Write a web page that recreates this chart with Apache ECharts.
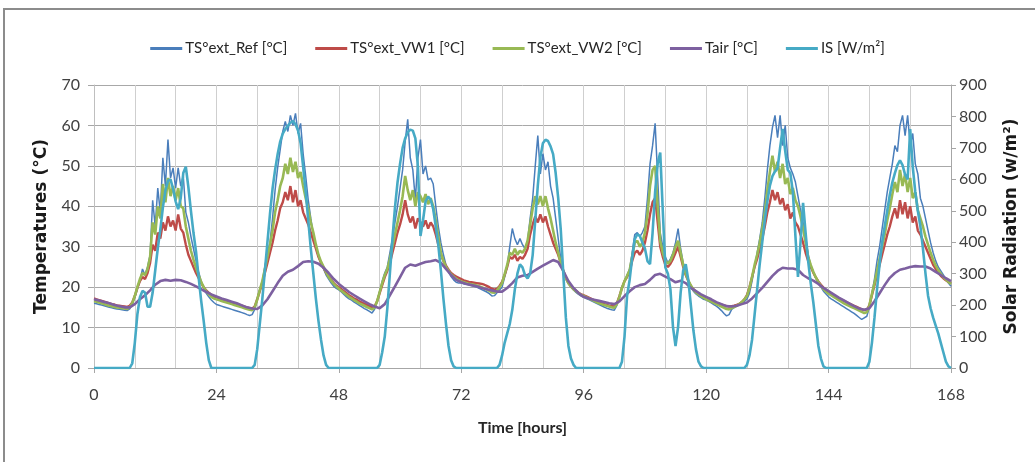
<!DOCTYPE html>
<html>
<head>
<meta charset="utf-8">
<script src="https://cdn.jsdelivr.net/npm/echarts@6/dist/echarts.min.js"></script>
<style>html,body{margin:0;padding:0;background:#fff}#c{width:1035px;height:462px}</style>
</head>
<body>
<div id="c"></div>
<script>
// ---------- DATA ----------
const seriesNames = ['TS°ext_Ref [°C]', 'TS°ext_VW1 [°C]', 'TS°ext_VW2 [°C]', 'Tair [°C]', 'IS [W/m²]'];
const xTicks = [0, 24, 48, 72, 96, 120, 144, 168];          // hours
const tempTicks = [0, 10, 20, 30, 40, 50, 60, 70];          // °C
const radTicks = [0, 100, 200, 300, 400, 500, 600, 700, 800, 900]; // W/m²
const halfHourStep = 0.5;   // sampling step (hours) of the half-hourly series
const hourStep = 1;         // sampling step (hours) of the hourly series

// TS°ext_Ref, half-hourly, t = 0 .. 168
const tsRef = [
16.0,15.9,15.7,15.6,15.4,15.2,15.0,14.9,14.7,14.6,14.5,14.4,14.3,14.2,14.6,15.8,
17.5,19.5,21.5,24.5,23.0,25.0,28.0,41.5,35.0,44.5,38.5,52.0,45.0,56.5,47.0,49.5,
44.5,49.5,45.0,47.5,38.5,36.0,32.5,29.5,26.5,23.8,21.5,19.8,18.5,17.6,16.8,16.2,
15.7,15.5,15.3,15.1,14.9,14.7,14.5,14.3,14.1,13.9,13.7,13.5,13.2,13.0,13.2,14.5,
17.0,19.5,21.5,25.0,28.5,31.0,37.0,44.0,49.5,54.0,58.5,61.0,58.5,62.5,60.0,63.0,
58.0,60.5,53.0,47.5,41.5,37.0,33.0,30.0,27.5,25.8,24.5,23.0,22.0,21.0,20.2,19.7,
19.3,18.8,18.2,17.6,17.1,16.8,16.3,15.9,15.5,15.1,14.7,14.4,14.0,13.6,14.5,16.5,
19.0,21.5,23.5,25.0,28.5,32.0,36.0,40.0,44.5,49.0,56.0,61.5,52.0,49.0,41.5,52.0,
56.5,48.0,50.0,46.5,47.0,45.5,40.0,35.0,31.0,28.0,25.5,23.8,22.6,21.8,21.2,21.0,
21.0,20.8,20.7,20.6,20.4,20.2,20.0,19.7,19.4,19.1,18.8,18.4,17.8,17.9,18.6,19.3,
20.0,22.5,25.0,30.0,34.5,32.0,30.5,32.0,30.5,29.5,31.5,37.0,42.0,50.0,57.5,48.0,
53.0,49.0,51.0,45.0,42.0,37.0,32.0,27.0,24.0,22.0,20.8,20.0,19.3,18.7,18.2,17.8,
17.5,17.2,16.9,16.6,16.3,16.0,15.7,15.4,15.1,14.8,14.6,14.4,14.3,15.5,17.5,20.0,
21.5,23.0,24.5,28.5,33.0,33.5,32.5,33.5,35.0,42.0,50.5,55.0,60.5,47.0,33.5,30.0,
27.5,26.0,27.0,28.5,31.0,34.5,29.5,26.0,23.5,21.5,20.0,19.0,18.3,17.8,17.4,17.0,
16.8,16.5,16.1,15.7,15.3,14.8,14.2,13.5,12.9,13.2,14.5,15.0,15.3,15.6,16.0,16.5,
17.0,18.5,21.5,25.0,28.5,32.0,36.0,42.0,49.0,55.0,59.5,62.5,57.0,62.5,55.0,60.0,
52.0,49.5,48.0,46.0,42.5,39.0,36.0,32.5,28.0,25.5,23.8,22.3,21.0,20.0,19.0,18.3,
17.6,17.1,16.7,16.3,15.9,15.5,15.1,14.7,14.3,13.9,13.5,13.0,12.5,12.0,12.4,12.8,
15.0,18.5,22.0,26.5,30.0,34.5,39.0,43.5,47.0,50.5,55.0,53.5,60.0,62.5,57.5,62.5,
55.0,58.0,50.5,48.0,42.0,40.0,37.0,34.0,31.0,28.5,26.5,25.0,24.0,23.0,22.0,21.0,
20.2
];

// TS°ext_VW1, half-hourly, t = 0 .. 168
const tsVW1 = [
17.2,17.0,16.8,16.6,16.4,16.2,16.0,15.8,15.7,15.5,15.4,15.3,15.2,15.1,15.4,16.2,
17.8,19.8,21.5,22.5,22.0,23.5,26.0,30.5,29.0,33.5,32.0,36.0,34.0,37.5,35.0,36.5,
34.0,38.0,34.5,33.5,30.5,28.0,26.5,25.0,23.5,22.3,21.0,20.0,19.2,18.6,18.1,17.7,
17.4,17.2,17.0,16.8,16.6,16.4,16.2,16.0,15.8,15.6,15.4,15.2,15.0,14.8,14.7,15.2,
17.0,19.0,21.0,23.5,26.0,28.5,31.0,34.0,36.5,39.5,41.0,43.5,41.5,45.0,41.0,44.0,
40.0,41.5,38.5,37.0,35.5,33.5,31.5,29.5,27.5,26.0,24.8,23.6,22.6,21.8,21.0,20.4,
20.0,19.5,19.0,18.5,18.0,17.6,17.2,16.9,16.5,16.2,15.9,15.6,15.3,15.0,15.2,16.5,
18.5,20.5,22.5,24.0,26.0,28.5,31.0,33.5,35.5,38.0,41.5,38.0,36.0,37.5,34.5,37.0,
36.0,35.0,36.5,34.5,36.0,35.0,33.0,30.5,28.0,26.5,25.3,24.3,23.5,23.0,22.6,22.3,
22.0,21.7,21.5,21.3,21.2,21.1,21.0,20.9,20.8,20.6,20.3,20.0,19.6,19.4,19.6,20.3,
21.3,23.0,25.0,27.5,27.0,28.0,26.5,27.5,27.0,28.0,29.5,33.0,35.5,37.5,36.0,38.0,
36.0,37.5,35.0,33.0,31.0,29.5,28.0,26.0,24.0,22.3,21.0,20.2,19.6,19.1,18.6,18.2,
18.0,17.7,17.4,17.1,16.8,16.5,16.2,16.0,15.8,15.6,15.4,15.3,15.2,16.0,17.8,19.8,
21.5,22.5,23.8,26.5,28.5,29.0,28.0,29.0,31.0,34.0,38.0,41.0,42.0,36.0,30.0,27.5,
25.5,25.0,25.8,27.0,28.5,30.0,27.5,25.0,23.0,21.5,20.3,19.5,18.9,18.4,18.0,17.6,
17.3,17.0,16.7,16.4,16.1,15.9,15.7,15.5,15.3,15.2,15.3,15.4,15.6,15.9,16.3,17.0,
18.0,20.0,22.5,25.0,27.0,29.5,32.0,35.0,38.5,41.0,44.0,41.5,43.5,40.5,42.0,39.0,
40.5,37.0,38.5,36.0,35.0,33.0,31.0,28.5,26.5,25.0,23.6,22.4,21.4,20.6,19.9,19.3,
18.8,18.4,18.0,17.6,17.2,16.9,16.6,16.3,16.0,15.7,15.4,15.1,14.8,14.5,14.3,14.4,
15.5,18.0,20.5,23.0,25.5,28.0,30.5,33.0,35.0,37.5,39.5,37.0,41.5,38.0,41.0,37.0,
40.0,36.0,37.5,34.0,33.0,31.5,30.0,28.5,27.0,25.5,24.5,23.6,22.8,22.2,21.7,21.3,
21.0
];

// TS°ext_VW2, half-hourly, t = 0 .. 168
const tsVW2 = [
16.6,16.4,16.2,16.0,15.8,15.6,15.4,15.3,15.1,15.0,14.9,14.8,14.7,14.6,15.0,16.0,
17.8,20.0,22.0,23.5,23.0,24.5,27.5,36.0,33.0,40.0,37.0,45.5,41.0,47.0,42.5,45.0,
41.5,44.5,40.0,39.5,35.0,32.0,29.0,26.8,24.8,23.0,21.3,20.0,19.0,18.2,17.6,17.2,
17.0,16.8,16.6,16.4,16.2,16.0,15.8,15.6,15.4,15.2,15.0,14.8,14.6,14.4,14.3,15.0,
17.0,19.3,21.5,24.5,27.5,30.5,34.0,38.5,41.5,45.0,47.0,50.5,48.0,52.0,48.5,51.0,
47.0,48.5,45.0,42.0,39.5,36.0,33.5,30.5,28.0,26.3,25.0,23.7,22.5,21.6,20.8,20.2,
19.6,19.1,18.6,18.1,17.6,17.2,16.8,16.4,16.0,15.7,15.4,15.1,14.8,14.5,14.9,16.5,
18.8,21.0,23.0,24.5,27.0,30.0,33.0,36.0,39.0,42.5,47.5,44.0,41.5,44.0,40.0,43.5,
42.5,41.0,43.0,40.5,42.0,40.0,36.5,32.5,28.5,26.5,25.0,24.0,23.2,22.6,22.1,21.7,
21.4,21.2,21.0,20.8,20.7,20.6,20.4,20.2,20.0,19.7,19.4,19.1,18.7,18.6,19.2,20.0,
21.0,23.2,25.5,28.5,28.0,29.5,28.0,29.0,28.5,29.5,31.5,35.5,39.5,42.5,40.5,42.5,
40.0,42.5,39.5,37.0,34.0,31.0,28.5,26.0,24.0,22.3,21.0,20.2,19.5,19.0,18.5,18.1,
17.8,17.5,17.2,16.9,16.6,16.3,16.0,15.8,15.6,15.4,15.2,15.0,14.9,15.8,17.6,19.8,
21.5,22.8,24.2,27.5,31.0,31.5,30.0,31.0,33.5,38.0,45.0,49.0,50.0,40.0,31.5,28.5,
26.5,25.8,26.5,28.0,30.0,31.5,28.5,25.5,23.3,21.7,20.4,19.4,18.7,18.2,17.8,17.4,
17.0,16.7,16.4,16.1,15.8,15.5,15.2,14.9,14.6,14.5,14.8,15.1,15.4,15.8,16.3,17.0,
17.8,19.8,22.5,25.5,28.0,31.0,34.5,38.5,44.0,48.5,52.5,48.5,51.0,47.0,50.5,45.5,
47.0,43.0,44.5,41.5,40.0,37.5,34.5,31.0,27.5,25.5,23.8,22.4,21.2,20.3,19.5,18.9,
18.4,18.0,17.6,17.2,16.8,16.4,16.0,15.7,15.4,15.1,14.8,14.5,14.2,13.9,13.6,13.8,
15.5,18.3,21.0,24.0,27.0,30.0,33.0,36.5,39.5,43.0,46.0,43.5,49.0,45.0,48.0,43.5,
47.0,42.0,43.5,39.0,37.0,35.0,32.5,30.5,28.5,26.8,25.3,24.2,23.3,22.5,21.9,21.3,
20.8
];

// Tair, hourly, t = 0 .. 168
const tAir = [
17.0,16.7,16.3,16.0,15.6,15.3,15.0,15.0,15.8,17.0,18.0,19.2,20.6,21.5,21.8,21.6,21.8,21.7,21.3,20.8,20.2,19.5,18.8,18.2,
17.7,17.2,16.8,16.4,16.0,15.5,15.0,14.7,14.6,15.5,17.0,19.0,21.0,22.8,23.8,24.3,25.2,26.2,26.4,26.3,25.8,24.8,23.5,22.0,
20.8,19.8,18.8,18.0,17.2,16.5,15.8,15.2,14.8,15.8,18.0,20.2,22.5,24.8,25.6,25.3,25.8,26.2,26.4,26.7,26.0,24.5,23.0,21.8,
21.2,20.8,20.5,20.2,19.8,19.5,19.2,18.9,18.9,19.8,21.0,22.4,22.8,23.0,23.8,24.6,25.3,26.0,26.7,26.2,24.0,21.5,19.8,18.5,
17.6,17.2,16.9,16.6,16.3,16.0,15.8,16.5,17.8,19.0,20.0,20.5,20.8,21.8,23.0,23.3,22.6,22.0,21.2,21.6,21.0,19.8,19.0,18.2,
17.6,17.0,16.3,15.8,15.3,15.2,15.4,15.8,16.2,17.2,18.5,19.8,21.3,22.8,24.0,24.8,24.6,24.6,24.3,23.0,22.2,21.6,20.8,19.8,
19.0,18.2,17.4,16.7,16.0,15.3,14.7,14.4,14.8,16.5,18.5,20.5,22.3,23.5,24.3,24.6,25.0,25.2,25.1,25.1,24.6,23.8,23.0,22.2,
21.5
];

// IS (solar radiation, W/m²), half-hourly, t = 0 .. 168
const solarIS = [
0,0,0,0,0,0,0,0,0,0,0,0,0,0,0,15,
80,170,225,245,240,195,195,240,310,380,440,510,565,595,600,570,
530,505,540,620,640,575,500,430,370,290,215,150,80,25,0,0,
0,0,0,0,0,0,0,0,0,0,0,0,0,0,0,10,
60,140,220,310,400,490,570,630,680,720,745,760,770,780,785,775,
755,715,640,560,470,380,300,220,150,90,40,10,0,0,0,0,
0,0,0,0,0,0,0,0,0,0,0,0,0,0,0,0,
10,50,100,190,300,410,510,590,650,700,730,750,758,755,730,640,
420,470,530,545,535,505,450,390,310,220,140,70,25,5,0,0,
0,0,0,0,0,0,0,0,0,0,0,0,0,0,0,10,
40,80,110,140,185,250,300,330,320,295,285,300,360,470,580,670,
715,726,722,705,680,620,540,440,300,160,70,30,10,0,0,0,
0,0,0,0,0,0,0,0,0,0,0,0,0,0,0,20,
100,230,280,350,410,425,420,400,380,340,330,430,560,650,685,500,
320,300,250,130,70,130,240,310,330,280,200,120,60,20,5,0,
0,0,0,0,0,0,0,0,0,0,0,0,0,0,0,0,
10,40,90,170,250,330,400,470,530,580,610,625,635,700,760,690,
630,620,560,420,290,400,525,430,340,270,210,140,70,30,5,0,
0,0,0,0,0,0,0,0,0,0,0,0,0,0,0,0,
20,80,160,250,330,400,450,500,550,590,620,645,660,645,615,600,
760,640,560,500,450,380,300,230,190,160,135,110,80,50,20,5,
0
];

// ---------- CHART ----------
const FONT = 'Lato, "Open Sans", sans-serif';
const TITLE_FONT = '"DejaVu Sans", Lato, sans-serif';
const toPairs = (arr, step) => arr.map((v, i) => [i * step, v]);
const colors = ['#4a7ebb', '#be4b48', '#98b954', '#7d60a0', '#46aac5'];
const widths = [1.5, 2.4, 2.6, 2.6, 2.6];
const sources = [
  [tsRef, halfHourStep, 0], [tsVW1, halfHourStep, 0], [tsVW2, halfHourStep, 0],
  [tAir, hourStep, 0], [solarIS, halfHourStep, 1]
];

const chart = echarts.init(document.getElementById('c'), null, {renderer: 'canvas'});
chart.setOption({
  animation: false,
  backgroundColor: '#ffffff',
  color: colors,
  textStyle: {fontFamily: FONT},
  graphic: [{
    type: 'rect', z: -1, silent: true,
    shape: {x: 4, y: 9, width: 1100, height: 600},
    style: {fill: 'none', stroke: '#8c8c8c', lineWidth: 2}
  }],
  legend: {
    top: 36, left: 'center', itemGap: 28, itemWidth: 32, itemHeight: 3,
    icon: 'rect',
    textStyle: {fontFamily: FONT, fontSize: 15, color: '#262626', padding: [0, 0, 0, -2]},
    data: seriesNames
  },
  grid: {left: 94, right: 84, top: 85, bottom: 94, containLabel: false},
  xAxis: {
    type: 'value', min: xTicks[0], max: xTicks[xTicks.length - 1], interval: 24,
    name: 'Time [hours]', nameLocation: 'middle', nameGap: 52,
    nameTextStyle: {fontFamily: FONT, fontSize: 16, fontWeight: 'bold', color: '#262626'},
    axisLine: {show: true, lineStyle: {color: '#a6a6a6', width: 1}},
    axisTick: {show: true, length: 5, lineStyle: {color: '#a6a6a6'}},
    minorTick: {show: false, splitNumber: 3},
    axisLabel: {fontFamily: FONT, fontSize: 16, color: '#404040', margin: 19},
    splitLine: {show: true, lineStyle: {color: '#cfcfcf', width: 1}},
    minorSplitLine: {show: true, lineStyle: {color: '#cfcfcf', width: 1}}
  },
  yAxis: [{
    type: 'value', min: tempTicks[0], max: tempTicks[tempTicks.length - 1], interval: 10,
    name: 'Temperatures (°C)', nameLocation: 'middle', nameGap: 38, nameRotate: 90,
    nameTextStyle: {fontFamily: TITLE_FONT, fontSize: 17, fontWeight: 'bold', color: '#1a1a1a'},
    axisLine: {show: true, lineStyle: {color: '#bfbfbf'}},
    axisTick: {show: true, length: 6, lineStyle: {color: '#a6a6a6'}},
    axisLabel: {fontFamily: FONT, fontSize: 16, color: '#404040', margin: 14},
    splitLine: {show: true, lineStyle: {color: '#a8a8a8', width: 1}}
  }, {
    type: 'value', min: radTicks[0], max: radTicks[radTicks.length - 1], interval: 100,
    name: 'Solar Radiation (w/m²)', nameLocation: 'middle', nameGap: 52, nameRotate: 90,
    nameTextStyle: {fontFamily: TITLE_FONT, fontSize: 17, fontWeight: 'bold', color: '#1a1a1a'},
    axisLine: {show: true, lineStyle: {color: '#a6a6a6'}},
    axisTick: {show: true, length: 5, lineStyle: {color: '#a6a6a6'}},
    axisLabel: {fontFamily: FONT, fontSize: 16, color: '#404040', margin: 8},
    splitLine: {show: false}
  }],
  series: sources.map(([arr, step, yi], k) => ({
    name: seriesNames[k], type: 'line', yAxisIndex: yi,
    data: toPairs(arr, step),
    symbol: 'none', showSymbol: false, smooth: false,
    lineStyle: {width: widths[k], color: colors[k]},
    itemStyle: {color: colors[k]},
    z: 2 + k
  }))
});
</script>
</body>
</html>
